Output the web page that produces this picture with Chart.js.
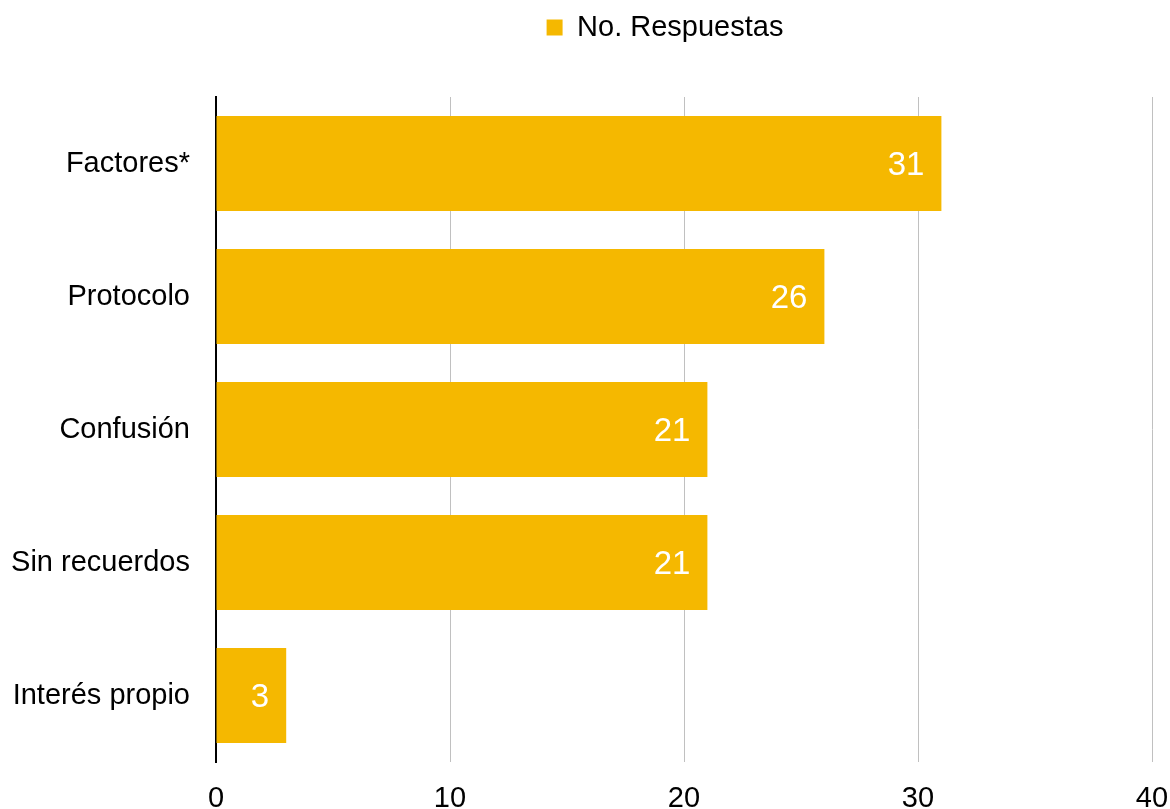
<!DOCTYPE html>
<html>
<head>
<meta charset="utf-8">
<script src="https://cdn.jsdelivr.net/npm/chart.js@4"></script>
<style>
	html, body { margin: 0; padding: 0; background: #fff; }
	#wrap { width: 1170px; height: 809px; }
</style>
</head>
<body>
<div id="wrap"><canvas id="chart-bar"></canvas></div>
<script>
const CATEGORIES = ["Factores*", "Protocolo", "Confusión", "Sin recuerdos", "Interés propio"];
const VALUES = [31, 26, 21, 21, 3];
const SERIES_LABEL = "No. Respuestas";
const X_TICKS = [0, 10, 20, 30, 40];

const FONT = "Arial, 'Liberation Sans', sans-serif";
const BAR_COLOR = "#F5B800";

// Value labels inside the bar end
const valueLabels = {
	id: "valueLabels",
	afterDatasetsDraw(chart) {
		const ctx = chart.ctx;
		const meta = chart.getDatasetMeta(0);
		ctx.save();
		ctx.font = "33px " + FONT;
		ctx.fillStyle = "#fff";
		ctx.textAlign = "right";
		ctx.textBaseline = "middle";
		meta.data.forEach((bar, i) => {
			ctx.fillText(String(VALUES[i]), bar.x - 17, bar.y + 2);
		});
		ctx.restore();
	},
};

// Extra room under the legend, and nudge it a bit to the left
const legendTweak = {
	id: "legendTweak",
	beforeInit(chart) {
		const fit = chart.legend.fit;
		chart.legend.fit = function () {
			fit.call(this);
			this.height += 45;
		};
	},
	beforeDraw(chart) {
		chart.legend.left -= 19;
		chart.legend.right -= 19;
	},
	afterDraw(chart) {
		chart.legend.left += 19;
		chart.legend.right += 19;
	},
};

const DATA = {
	labels: CATEGORIES,
	datasets: [
		{
			label: SERIES_LABEL,
			data: VALUES,
			backgroundColor: BAR_COLOR,
			borderWidth: 0,
			barPercentage: 0.715,
			categoryPercentage: 1,
		},
	],
};

const CONFIG = {
	type: "bar",
	data: DATA,
	plugins: [valueLabels, legendTweak],
	options: {
		indexAxis: "y",
		responsive: true,
		maintainAspectRatio: false,
		animation: false,
		layout: {
			padding: { top: 0, right: 18, left: 12, bottom: 0 },
		},
		plugins: {
			legend: {
				position: "top",
				fullSize: false,
				labels: {
					boxWidth: 16,
					boxHeight: 16,
					padding: 13,
					color: "#000",
					font: { size: 29, family: FONT },
				},
			},
			tooltip: { enabled: false },
		},
		scales: {
			x: {
				min: 0,
				max: 40,
				afterBuildTicks(axis) {
					axis.ticks = X_TICKS.map((v) => ({ value: v }));
				},
				afterFit(axis) {
					axis.height = 47;
					axis.paddingLeft = 0;
					axis.paddingRight = 0;
				},
				border: { display: false },
				grid: {
					color: "#c0c0c0",
					lineWidth: 1,
					drawTicks: false,
				},
				ticks: {
					padding: 22,
					color: "#000",
					font: { size: 29, family: FONT, lineHeight: 1 },
				},
			},
			y: {
				afterFit(axis) {
					axis.width = 204;
					axis.paddingTop = 0;
					axis.paddingBottom = 0;
				},
				border: { display: true, color: "#000", width: 2 },
				grid: { display: false, drawTicks: false },
				ticks: {
					padding: 26,
					color: "#000",
					font: { size: 29, family: FONT },
				},
			},
		},
	},
};

new Chart(document.getElementById("chart-bar"), CONFIG);
</script>
</body>
</html>
